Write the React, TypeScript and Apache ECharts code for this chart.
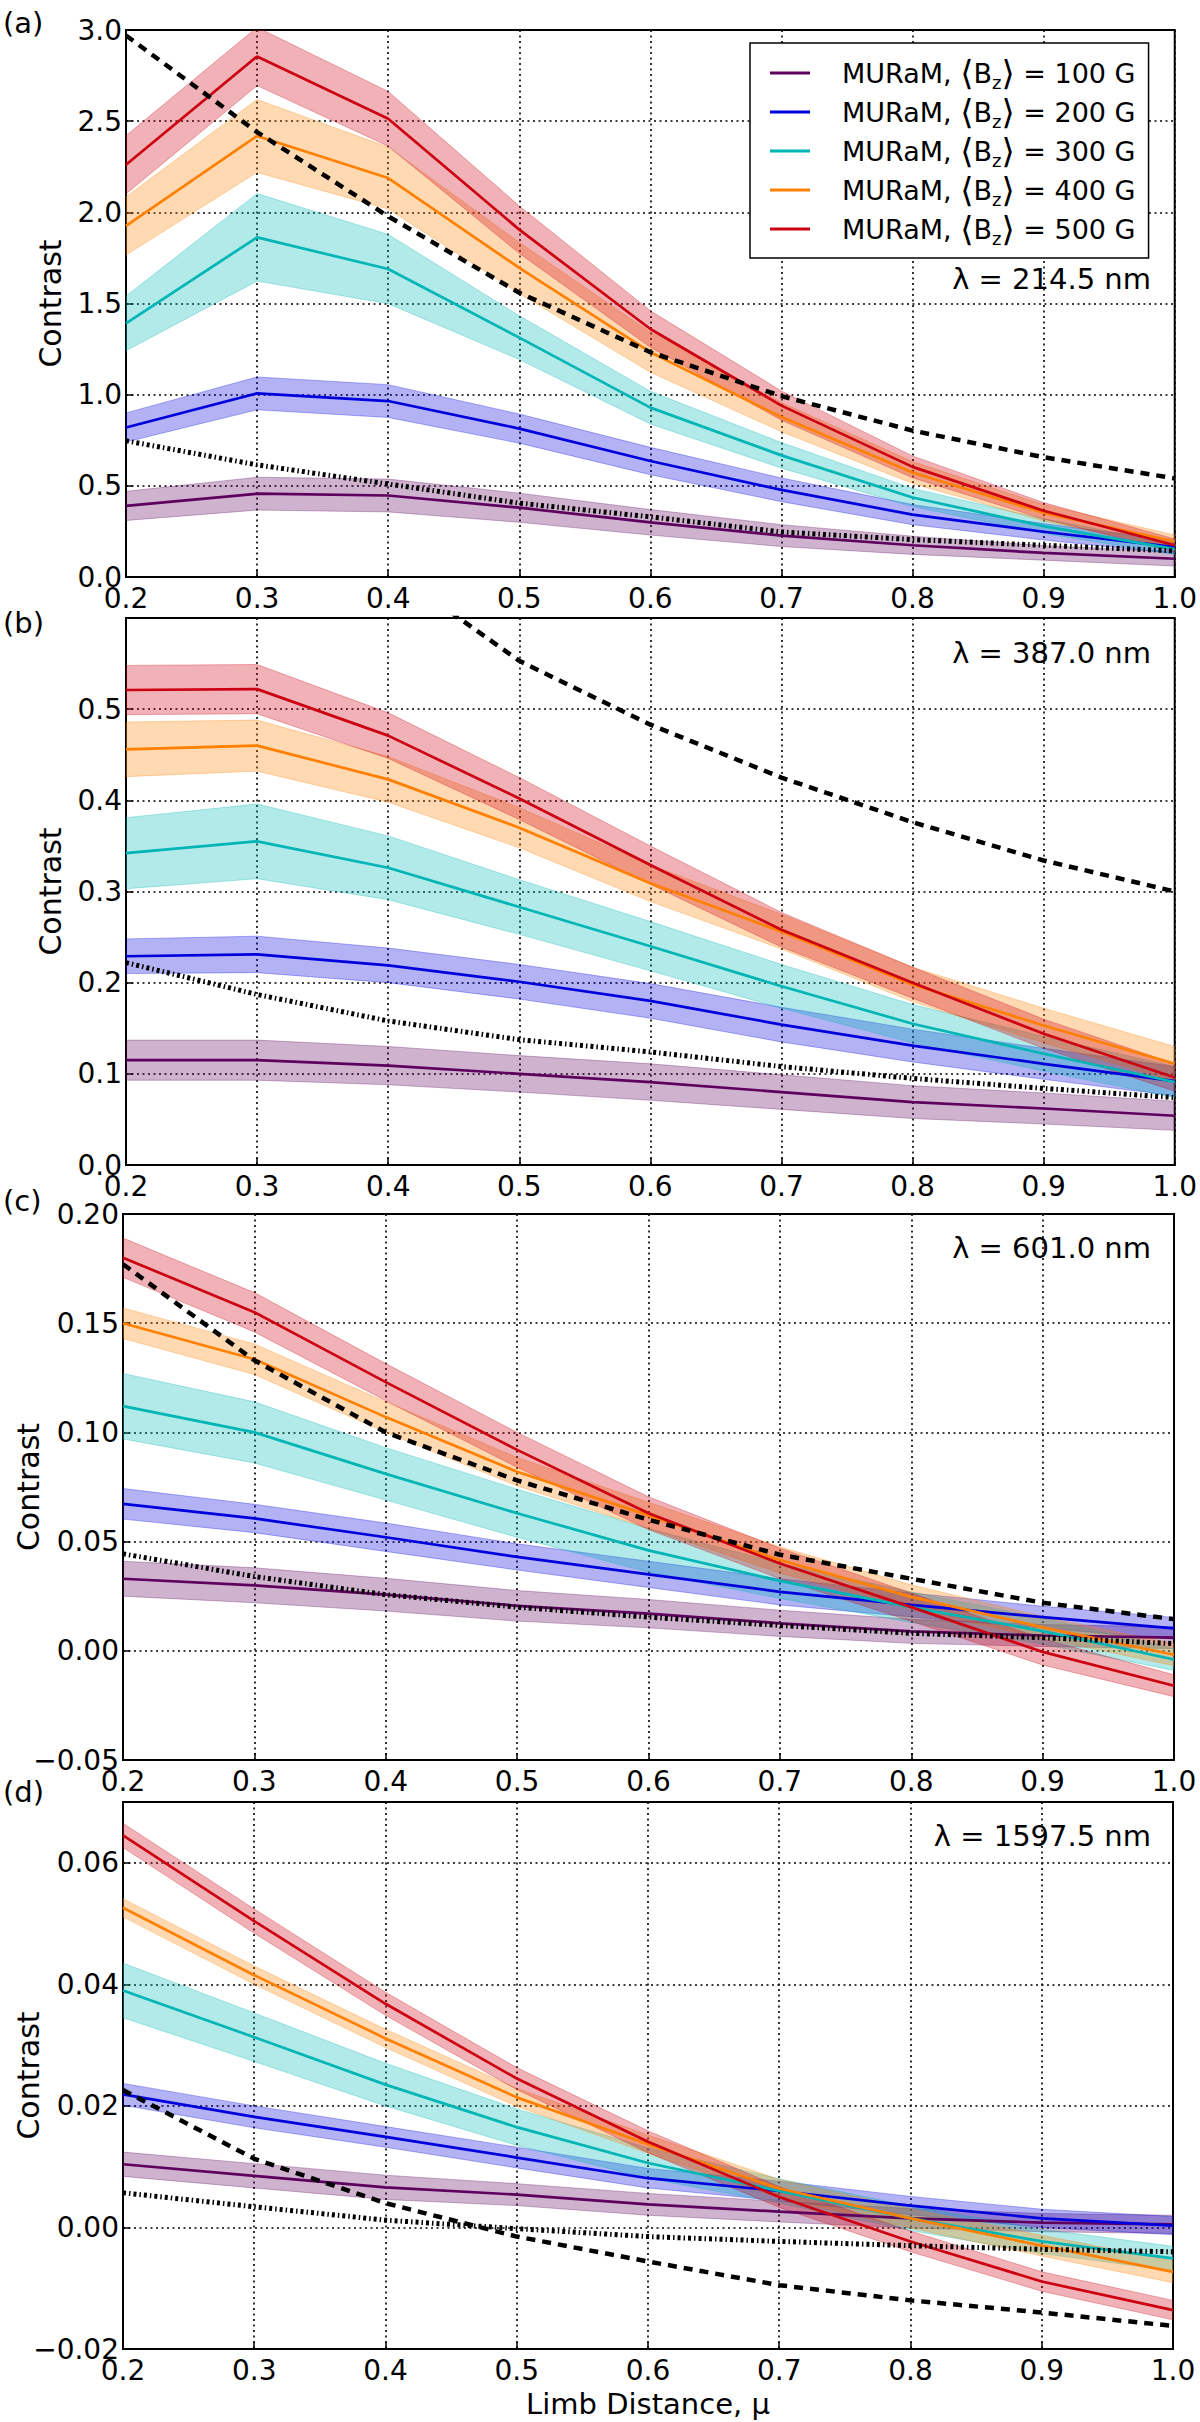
import React, { useEffect, useRef } from 'react';
import * as echarts from 'echarts';

const FONT = 'DejaVu Sans';

// limb distance sampling
const mu = [0.2, 0.3, 0.4, 0.5, 0.6, 0.7, 0.8, 0.9, 1.0];
const fieldG = [100, 200, 300, 400, 500];
const colors = ['#5e005e', '#0000dd', '#00b5b5', '#ff8000', '#cc0010'];
const wavelengths = ['214.5', '387.0', '601.0', '1597.5'];
const panelTags = ['(a)', '(b)', '(c)', '(d)'];

// (a) 214.5 nm  rows: 100 G .. 500 G
const meanA = [
  [0.39, 0.457, 0.447, 0.38, 0.3, 0.227, 0.174, 0.132, 0.1],
  [0.82, 1.007, 0.965, 0.814, 0.636, 0.478, 0.342, 0.248, 0.164],
  [1.391, 1.863, 1.689, 1.313, 0.929, 0.667, 0.436, 0.279, 0.153],
  [1.926, 2.419, 2.188, 1.695, 1.233, 0.877, 0.573, 0.352, 0.195],
  [2.261, 2.855, 2.513, 1.905, 1.36, 0.94, 0.604, 0.363, 0.174],
];
const errA = [
  [0.08, 0.09, 0.09, 0.08, 0.07, 0.06, 0.05, 0.04, 0.04],
  [0.08, 0.09, 0.09, 0.08, 0.075, 0.065, 0.055, 0.045, 0.035],
  [0.15, 0.24, 0.19, 0.12, 0.09, 0.07, 0.05, 0.04, 0.03],
  [0.16, 0.2, 0.17, 0.14, 0.11, 0.08, 0.06, 0.045, 0.035],
  [0.16, 0.16, 0.15, 0.13, 0.1, 0.08, 0.06, 0.045, 0.035],
];
const dashedA = [2.97, 2.44, 1.978, 1.559, 1.233, 0.992, 0.803, 0.657, 0.541];
const dashDotA = [0.747, 0.615, 0.51, 0.405, 0.33, 0.247, 0.205, 0.174, 0.143];

// (b) 387.0 nm
const meanB = [
  [0.115, 0.115, 0.109, 0.1, 0.091, 0.08, 0.069, 0.062, 0.054],
  [0.229, 0.231, 0.219, 0.201, 0.18, 0.154, 0.131, 0.111, 0.092],
  [0.342, 0.355, 0.326, 0.283, 0.24, 0.196, 0.155, 0.122, 0.091],
  [0.456, 0.46, 0.423, 0.37, 0.309, 0.256, 0.198, 0.153, 0.111],
  [0.521, 0.522, 0.471, 0.402, 0.329, 0.258, 0.2, 0.144, 0.096],
];
const errB = [
  [0.022, 0.022, 0.021, 0.02, 0.02, 0.019, 0.018, 0.017, 0.016],
  [0.019, 0.02, 0.019, 0.019, 0.019, 0.019, 0.018, 0.017, 0.016],
  [0.039, 0.041, 0.035, 0.03, 0.027, 0.024, 0.021, 0.019, 0.017],
  [0.03, 0.028, 0.025, 0.022, 0.02, 0.019, 0.019, 0.019, 0.019],
  [0.027, 0.027, 0.025, 0.023, 0.021, 0.019, 0.017, 0.016, 0.015],
];
const dashedB = [0.86, 0.74, 0.655, 0.553, 0.483, 0.425, 0.376, 0.334, 0.3];
const dashDotB = [0.222, 0.187, 0.158, 0.1375, 0.124, 0.108, 0.095, 0.084, 0.074];

// (c) 601.0 nm
const meanC = [
  [0.033, 0.03, 0.0257, 0.0206, 0.017, 0.0126, 0.0089, 0.007, 0.006],
  [0.0673, 0.0606, 0.052, 0.043, 0.035, 0.027, 0.021, 0.0154, 0.0103],
  [0.112, 0.1, 0.081, 0.063, 0.046, 0.032, 0.02, 0.009, -0.004],
  [0.15, 0.1335, 0.107, 0.082, 0.062, 0.0416, 0.0247, 0.0107, -0.0018],
  [0.18, 0.155, 0.123, 0.092, 0.063, 0.04, 0.02, -0.0005, -0.016],
];
const errC = [
  [0.008, 0.008, 0.0075, 0.007, 0.0065, 0.006, 0.0055, 0.005, 0.005],
  [0.007, 0.0065, 0.0065, 0.006, 0.006, 0.006, 0.0055, 0.005, 0.005],
  [0.015, 0.014, 0.012, 0.011, 0.01, 0.008, 0.007, 0.006, 0.005],
  [0.007, 0.007, 0.007, 0.0065, 0.006, 0.006, 0.0055, 0.005, 0.005],
  [0.009, 0.009, 0.0085, 0.008, 0.0075, 0.007, 0.0065, 0.006, 0.005],
];
const dashedC = [0.177, 0.133, 0.1, 0.078, 0.06, 0.044, 0.033, 0.022, 0.0145];
const dashDotC = [0.0444, 0.034, 0.0257, 0.02, 0.0154, 0.0116, 0.008, 0.006, 0.0033];

// (d) 1597.5 nm
const meanD = [
  [0.0104, 0.0085, 0.0066, 0.0054, 0.0038, 0.0026, 0.0015, 0.0008, 0.0005],
  [0.0219, 0.0182, 0.0149, 0.0115, 0.0081, 0.006, 0.0036, 0.0015, 0.0003],
  [0.039, 0.0313, 0.0235, 0.0165, 0.0106, 0.006, 0.0015, -0.0023, -0.0051],
  [0.0526, 0.0415, 0.0311, 0.0214, 0.0137, 0.0064, 0.0015, -0.003, -0.0073],
  [0.0645, 0.0504, 0.0368, 0.0245, 0.0141, 0.005, -0.0023, -0.0089, -0.0136],
];
const errD = [
  [0.002, 0.002, 0.002, 0.0018, 0.0018, 0.0017, 0.0016, 0.0015, 0.0015],
  [0.0018, 0.0018, 0.0017, 0.0017, 0.0016, 0.0016, 0.0015, 0.0015, 0.0015],
  [0.0045, 0.004, 0.0035, 0.003, 0.0025, 0.002, 0.002, 0.002, 0.002],
  [0.0015, 0.0015, 0.0015, 0.0015, 0.0015, 0.0015, 0.0016, 0.0017, 0.0018],
  [0.002, 0.002, 0.0019, 0.0018, 0.0018, 0.0017, 0.0017, 0.0016, 0.0016],
];
const dashedD = [0.0226, 0.0113, 0.004, -0.0015, -0.0056, -0.0095, -0.012, -0.014, -0.0162];
const dashDotD = [0.0057, 0.0034, 0.0012, -0.0002, -0.0015, -0.0023, -0.003, -0.0036, -0.004];

const minus = (s: string) => s.replace('-', '\u2212');

const panels = [
  { mean: meanA, err: errA, dashed: dashedA, dashDot: dashDotA, min: 0, max: 3, step: 0.5,
    fmt: (v: number) => v.toFixed(1),
    grid: { left: 126, top: 30, width: 1050, height: 547 } },
  { mean: meanB, err: errB, dashed: dashedB, dashDot: dashDotB, min: 0, max: 0.6, step: 0.1,
    fmt: (v: number) => (v > 0.59 ? '' : v.toFixed(1)),
    grid: { left: 126, top: 618, width: 1051, height: 547 } },
  { mean: meanC, err: errC, dashed: dashedC, dashDot: dashDotC, min: -0.05, max: 0.2, step: 0.05,
    fmt: (v: number) => (Math.abs(v) < 1e-9 ? '0.00' : minus(v.toFixed(2))),
    grid: { left: 123, top: 1214, width: 1051, height: 546 } },
  { mean: meanD, err: errD, dashed: dashedD, dashDot: dashDotD, min: -0.02, max: 0.07, step: 0.02,
    fmt: (v: number) => (v > 0.065 ? '' : Math.abs(v) < 1e-9 ? '0.00' : minus(v.toFixed(2))),
    grid: { left: 123, top: 1802, width: 1050, height: 547 } },
];

const legendName = (g: number) => `MURaM, <Bz> = ${g} G`;

const App = () => {
  const chartRef = useRef<HTMLDivElement>(null);

  useEffect(() => {
    const chart = echarts.init(chartRef.current, null, { renderer: 'svg' });

    const series: any[] = [];
    panels.forEach((p, pi) => {
      // shaded bands (mean +/- spread)
      p.mean.forEach((row, k) => {
        const rows = mu.map((m, i) => [m, row[i] - p.err[k][i], row[i] + p.err[k][i]]);
        series.push({
          type: 'custom',
          name: `band-${pi}-${k}`,
          xAxisIndex: pi,
          yAxisIndex: pi,
          clip: true,
          silent: true,
          z: 1,
          data: rows,
          encode: { x: 0, y: [1, 2] },
          renderItem: (params: any, api: any) => {
            if (params.dataIndex !== 0) return null;
            const upper = rows.map((r) => api.coord([r[0], r[2]]));
            const lower = rows.map((r) => api.coord([r[0], r[1]])).reverse();
            return {
              type: 'polygon',
              shape: { points: upper.concat(lower) },
              style: { fill: colors[k], opacity: 0.3, stroke: colors[k], lineWidth: 1 },
            };
          },
        });
      });
      // mean curves
      p.mean.forEach((row, k) => {
        series.push({
          type: 'line',
          name: legendName(fieldG[k]),
          xAxisIndex: pi,
          yAxisIndex: pi,
          color: colors[k],
          symbol: 'none',
          z: 3,
          lineStyle: { color: colors[k], width: 2.7 },
          data: mu.map((m, i) => [m, row[i]]),
        });
      });
      series.push({
        type: 'line',
        name: `dashed-${pi}`,
        xAxisIndex: pi,
        yAxisIndex: pi,
        symbol: 'none',
        z: 4,
        lineStyle: { color: '#000', width: 4.5, type: [9, 7] },
        data: mu.map((m, i) => [m, p.dashed[i]]),
      });
      series.push({
        type: 'line',
        name: `dashdot-${pi}`,
        xAxisIndex: pi,
        yAxisIndex: pi,
        symbol: 'none',
        z: 4,
        lineStyle: { color: '#000', width: 5, type: [3, 3, 1.5, 3] },
        data: mu.map((m, i) => [m, p.dashDot[i]]),
      });
    });

    const graphics: any[] = [];
    panels.forEach((p, pi) => {
      const g = p.grid;
      graphics.push({
        type: 'text',
        left: 3,
        top: [8, 608, 1186, 1777][pi],
        style: { text: panelTags[pi], font: `29px "${FONT}"`, fill: '#000' },
      });
      graphics.push({
        type: 'text',
        x: [50, 50, 28, 28][pi],
        y: g.top + g.height / 2,
        rotation: Math.PI / 2,
        style: {
          text: 'Contrast', font: `30px "${FONT}"`, fill: '#000',
          align: 'center', verticalAlign: 'middle',
        },
      });
      graphics.push({
        type: 'text',
        x: 1151,
        y: [279, 653, 1248, 1836][pi],
        style: {
          text: `\u03bb = ${wavelengths[pi]} nm`, font: `29px "${FONT}"`, fill: '#000',
          align: 'right', verticalAlign: 'middle',
        },
      });
    });
    graphics.push({
      type: 'text',
      x: 648,
      y: 2404,
      style: {
        text: 'Limb Distance, \u03bc', font: `29px "${FONT}"`, fill: '#000',
        align: 'center', verticalAlign: 'middle',
      },
    });

    chart.setOption({
      animation: false,
      backgroundColor: '#fff',
      grid: panels.map((p) => ({
        ...p.grid,
        show: true,
        borderColor: '#000',
        borderWidth: 2,
        backgroundColor: 'transparent',
      })),
      xAxis: panels.map((p, pi) => ({
        type: 'value',
        gridIndex: pi,
        min: 0.2,
        max: 1.0,
        interval: 0.1,
        axisLine: { onZero: false, lineStyle: { color: '#000', width: 2 } },
        axisTick: { inside: true, length: 7, lineStyle: { color: '#000', width: 1.5 } },
        axisLabel: {
          color: '#000', fontFamily: FONT, fontSize: 28, margin: 7,
          formatter: (v: number) => v.toFixed(1),
        },
        splitLine: { show: true, lineStyle: { color: '#000', width: 1.6, type: [2, 3.5] } },
      })),
      yAxis: panels.map((p, pi) => ({
        type: 'value',
        gridIndex: pi,
        min: p.min,
        max: p.max,
        interval: p.step,
        axisLine: { onZero: false, lineStyle: { color: '#000', width: 2 } },
        axisTick: { inside: true, length: 7, lineStyle: { color: '#000', width: 1.5 } },
        axisLabel: { color: '#000', fontFamily: FONT, fontSize: 28, margin: 4, formatter: p.fmt },
        splitLine: { show: true, lineStyle: { color: '#000', width: 1.6, type: [2, 3.5] } },
      })),
      legend: {
        data: fieldG.map(legendName),
        orient: 'vertical',
        left: 750,
        top: 43,
        padding: [13, 13, 11, 20],
        itemGap: 4,
        itemWidth: 40,
        itemHeight: 3,
        icon: 'rect',
        selectedMode: false,
        backgroundColor: '#fff',
        borderColor: '#000',
        borderWidth: 1.5,
        borderRadius: 0,
        z: 10,
        formatter: (name: string) => {
          const g = name.split('= ')[1];
          return `{gap|}MURaM, {br|\u27e8}B{sub|z}{br|\u27e9} = ${g}`;
        },
        textStyle: {
          color: '#000',
          fontFamily: FONT,
          fontSize: 27,
          lineHeight: 34,
          rich: {
            gap: { width: 27, height: 30, lineHeight: 30 },
            br: { fontFamily: FONT, fontSize: 34, height: 30, lineHeight: 30, color: '#000' },
            sub: { fontFamily: FONT, fontSize: 18, height: 16, lineHeight: 16, verticalAlign: 'bottom', color: '#000' },
          },
        },
      },
      graphic: graphics,
      series,
    });

    return () => {
      chart.dispose();
    };
  }, []);

  return (
    <div
      ref={chartRef}
      style={{ position: 'absolute', left: 0, top: 0, width: '1200px', height: '2422px' }}
    ></div>
  );
};

export default App;
